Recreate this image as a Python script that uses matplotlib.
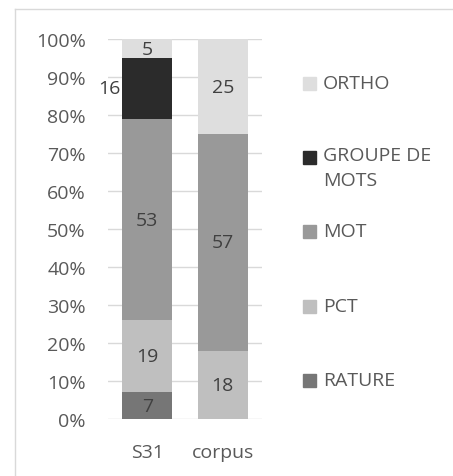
import numpy as np
import matplotlib.pyplot as plt
from matplotlib.patches import Rectangle
from matplotlib.lines import Line2D

plt.rcParams['font.family'] = ['Open Sans', 'DejaVu Sans']

# Données
categories = ['S31', 'corpus']
series = ['RATURE', 'PCT', 'MOT', 'GROUPE DE MOTS', 'ORTHO']
rature = [7, 0]
pct = [19, 18]
mot = [53, 57]
groupe = [16, 0]
ortho = [5, 25]
colors = ['#767676', '#bfbfbf', '#999999', '#2b2b2b', '#dedede']
text_col = '#595959'
label_col = '#404040'
fs = 14

values = [rature, pct, mot, groupe, ortho]

fig = plt.figure(figsize=(4.53, 4.77), dpi=100)
ax = fig.add_axes([0.2384, 0.1195, 0.34, 0.7966])

x = np.arange(len(categories))
bottom = np.zeros(len(categories))
for name, vals, col in zip(series, values, colors):
    vals = np.array(vals, dtype=float)
    ax.bar(x, vals, 0.66, bottom=bottom, color=col, zorder=2)
    for i, v in enumerate(vals):
        if v == 0:
            continue
        yc = bottom[i] + v / 2
        if name == 'GROUPE DE MOTS':
            # étiquette à gauche de la barre
            ax.text(x[i] - 0.35, yc, f'{v:.0f}', ha='right', va='center',
                    fontsize=fs, color=label_col, zorder=3)
        else:
            ax.text(x[i], yc, f'{v:.0f}', ha='center', va='center',
                    fontsize=fs, color=label_col, zorder=3)
    bottom += vals

ax.set_xlim(-0.52, 1.52)
ax.set_ylim(0, 100)
ax.set_yticks(np.arange(0, 101, 10))
ax.set_yticklabels([f'{t}%' for t in range(0, 101, 10)])
ax.set_xticks(x)
ax.set_xticklabels(categories)
ax.tick_params(axis='both', length=0, labelsize=fs, colors=text_col)
ax.tick_params(axis='y', pad=16)
ax.tick_params(axis='x', pad=17)
ax.yaxis.grid(True, color='#d9d9d9', linewidth=1, zorder=0)
ax.set_axisbelow(True)
for s in ax.spines.values():
    s.set_visible(False)

# Légende
W, H = 453, 477
leg_names = ['ORTHO', 'GROUPE DE\nMOTS', 'MOT', 'PCT', 'RATURE']
leg_colors = colors[::-1]
for k, (name, col) in enumerate(zip(leg_names, leg_colors)):
    yp = 84 + k * 74.2
    fig.patches.append(Rectangle((303 / W, 1 - (yp + 7) / H), 13 / W, 13 / H,
                                 color=col, transform=fig.transFigure))
    if '\n' in name:
        fig.text(323 / W, 1 - (yp - 11) / H, name, ha='left', va='top',
                 fontsize=fs, color=text_col, linespacing=1.5,
                 transform=fig.transFigure)
    else:
        fig.text(323 / W, 1 - yp / H, name, ha='left', va='center',
                 fontsize=fs, color=text_col, transform=fig.transFigure)

# Cadre
fig.add_artist(Line2D([15 / W, 1], [1 - 10 / H, 1 - 10 / H], color='#d9d9d9', lw=1))
fig.add_artist(Line2D([15 / W, 15 / W], [0, 1 - 10 / H], color='#d9d9d9', lw=1))

fig.savefig('out.png', dpi=100)
